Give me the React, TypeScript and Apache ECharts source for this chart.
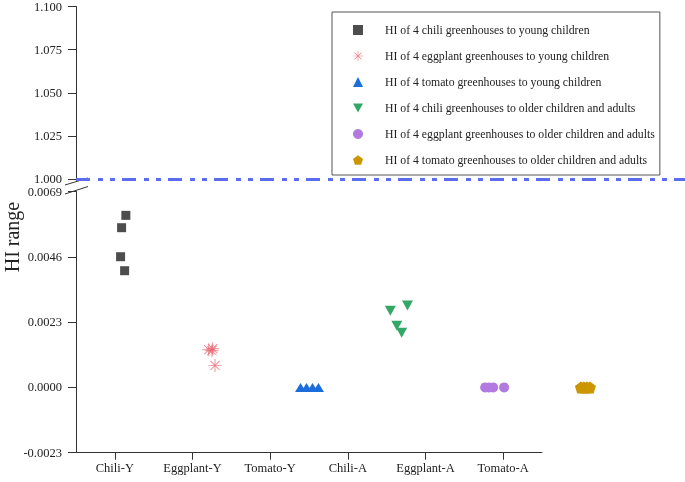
import React, { useEffect, useRef } from "react";
import * as echarts from "echarts";

const categories = ["Chili-Y", "Eggplant-Y", "Tomato-Y", "Chili-A", "Eggplant-A", "Tomato-A"];
const seriesNames = [
  "HI of 4 chili greenhouses to young children",
  "HI of 4 eggplant greenhouses to young children",
  "HI of 4 tomato greenhouses to young children",
  "HI of 4 chili greenhouses to older children and adults",
  "HI of 4 eggplant greenhouses to older children and adults",
  "HI of 4 tomato greenhouses to older children and adults",
];
// [x position in category units (jittered), HI value]
const chiliYoung = [[0.142, 0.00606], [0.087, 0.005625], [0.074, 0.004603], [0.126, 0.00411]];
const eggplantYoung = [[1.21, 0.001328], [1.25, 0.001293], [1.26, 0.001363], [1.29, 0.000775]];
const tomatoYoung = [[2.391, 0], [2.468, 0], [2.545, 0], [2.622, 0]];
const chiliAdult = [[3.547, 0.002702], [3.768, 0.002888], [3.631, 0.002173], [3.693, 0.001927]];
const eggplantAdult = [[4.768, 0], [4.819, 0], [4.871, 0], [5.012, 0]];
const tomatoAdult = [[6.001, 0], [6.04, 0], [6.078, 0], [6.117, 0]];
const refLine = [1.0];
const upperRange = [1.0, 1.1, 0.025];
const lowerRange = [-0.0023, 0.0069, 0.0023];

const FONT = "Liberation Serif";
const STAR =
  "path://M-1,-0.07L1,-0.07L1,0.07L-1,0.07Z M-0.07,-1L0.07,-1L0.07,1L-0.07,1Z M-0.657,-0.757L0.757,0.657L0.657,0.757L-0.757,-0.657Z M-0.757,0.657L0.657,-0.757L0.757,-0.657L-0.657,0.757Z";
const PENTAGON = "path://M0,-1L0.951,-0.309L0.588,0.809L-0.588,0.809L-0.951,-0.309Z";
const DOWN_TRI = "path://M-1,-0.9L1,-0.9L0,0.9Z";

export default function App() {
  const ref = useRef<HTMLDivElement>(null);
  useEffect(() => {
    if (!ref.current) return;
    const chart = echarts.init(ref.current, undefined, { renderer: "svg" });
    const axisLine = { show: true, onZero: false, lineStyle: { color: "#333", width: 1 } };
    const axisLabel = { color: "#222", fontFamily: FONT, fontSize: 12.5 };
    const mk = (name: string, data: number[][], symbol: string, size: any, color: string, opacity = 1) => ({
      name,
      type: "scatter",
      xAxisIndex: 2,
      yAxisIndex: 1,
      data,
      symbol,
      symbolSize: size,
      clip: false,
      itemStyle: { color, opacity },
    });
    chart.setOption({
      animation: false,
      grid: [
        { left: 76, top: 6, right: 0, height: 173 },
        { left: 76, top: 191.5, width: 466, height: 261.2 },
      ],
      xAxis: [
        { gridIndex: 0, type: "value", show: false, min: 0, max: 1 },
        {
          gridIndex: 1,
          type: "category",
          data: categories,
          boundaryGap: true,
          axisLine,
          axisTick: { show: true, alignWithLabel: true, length: 7, lineStyle: { color: "#333" } },
          axisLabel: { ...axisLabel, margin: 9 },
        },
        { gridIndex: 1, type: "value", show: false, min: -0.5, max: 5.5 },
      ],
      yAxis: [
        {
          gridIndex: 0,
          type: "value",
          min: upperRange[0],
          max: upperRange[1],
          interval: upperRange[2],
          axisLine,
          axisTick: { show: true, length: 8, lineStyle: { color: "#333" } },
          splitLine: { show: false },
          axisLabel: { ...axisLabel, margin: 14, formatter: (v: number) => v.toFixed(3) },
        },
        {
          gridIndex: 1,
          type: "value",
          min: lowerRange[0],
          max: lowerRange[1],
          interval: lowerRange[2],
          axisLine,
          axisTick: { show: true, length: 8, lineStyle: { color: "#333" } },
          splitLine: { show: false },
          axisLabel: { ...axisLabel, margin: 14, formatter: (v: number) => v.toFixed(4) },
        },
      ],
      legend: {
        orient: "vertical",
        left: 332,
        top: 12,
        padding: [11, 5, 8, 21],
        itemWidth: 10,
        itemHeight: 10,
        itemGap: 12,
        borderColor: "#555",
        borderWidth: 1,
        textStyle: { fontFamily: FONT, fontSize: 11.75, color: "#222", lineHeight: 14, padding: [0, 0, 0, 17] },
        data: seriesNames.map((n, i) => (i === 3 ? { name: n, icon: DOWN_TRI } : n)),
      },
      series: [
        {
          name: "ref",
          type: "scatter",
          xAxisIndex: 0,
          yAxisIndex: 0,
          data: [],
          markLine: {
            silent: true,
            symbol: "none",
            label: { show: false },
            lineStyle: { color: "#5b6cf0", width: 3, type: [14, 8, 5, 7, 5, 7] },
            data: refLine.map((v) => ({ yAxis: v })),
          },
        },
        mk(seriesNames[0], chiliYoung, "rect", 9, "#4d4d4d"),
        mk(seriesNames[1], eggplantYoung, STAR, 13, "#e8606c", 0.75),
        mk(seriesNames[2], tomatoYoung, "triangle", [11, 9], "#1a6ddb"),
        mk(seriesNames[3], chiliAdult, DOWN_TRI, [11, 10], "#33a866"),
        mk(seriesNames[4], eggplantAdult, "circle", 10, "#b27ae0"),
        mk(seriesNames[5], tomatoAdult, PENTAGON, 12, "#cc9600"),
      ],
      graphic: [
        {
          type: "text",
          x: 12,
          y: 237,
          rotation: Math.PI / 2,
          style: {
            text: "HI range",
            fontFamily: FONT,
            fontSize: 20,
            fill: "#222",
            textAlign: "center",
            textVerticalAlign: "middle",
          },
        },
        { type: "line", shape: { x1: 65, y1: 185, x2: 88, y2: 178 }, style: { stroke: "#333", lineWidth: 1 } },
        { type: "line", shape: { x1: 65, y1: 194, x2: 88, y2: 186.5 }, style: { stroke: "#333", lineWidth: 1 } },
      ],
    });
    return () => chart.dispose();
  }, []);
  return <div ref={ref} style={{ position: "fixed", left: 0, top: 0, width: 685, height: 482 }} />;
}
